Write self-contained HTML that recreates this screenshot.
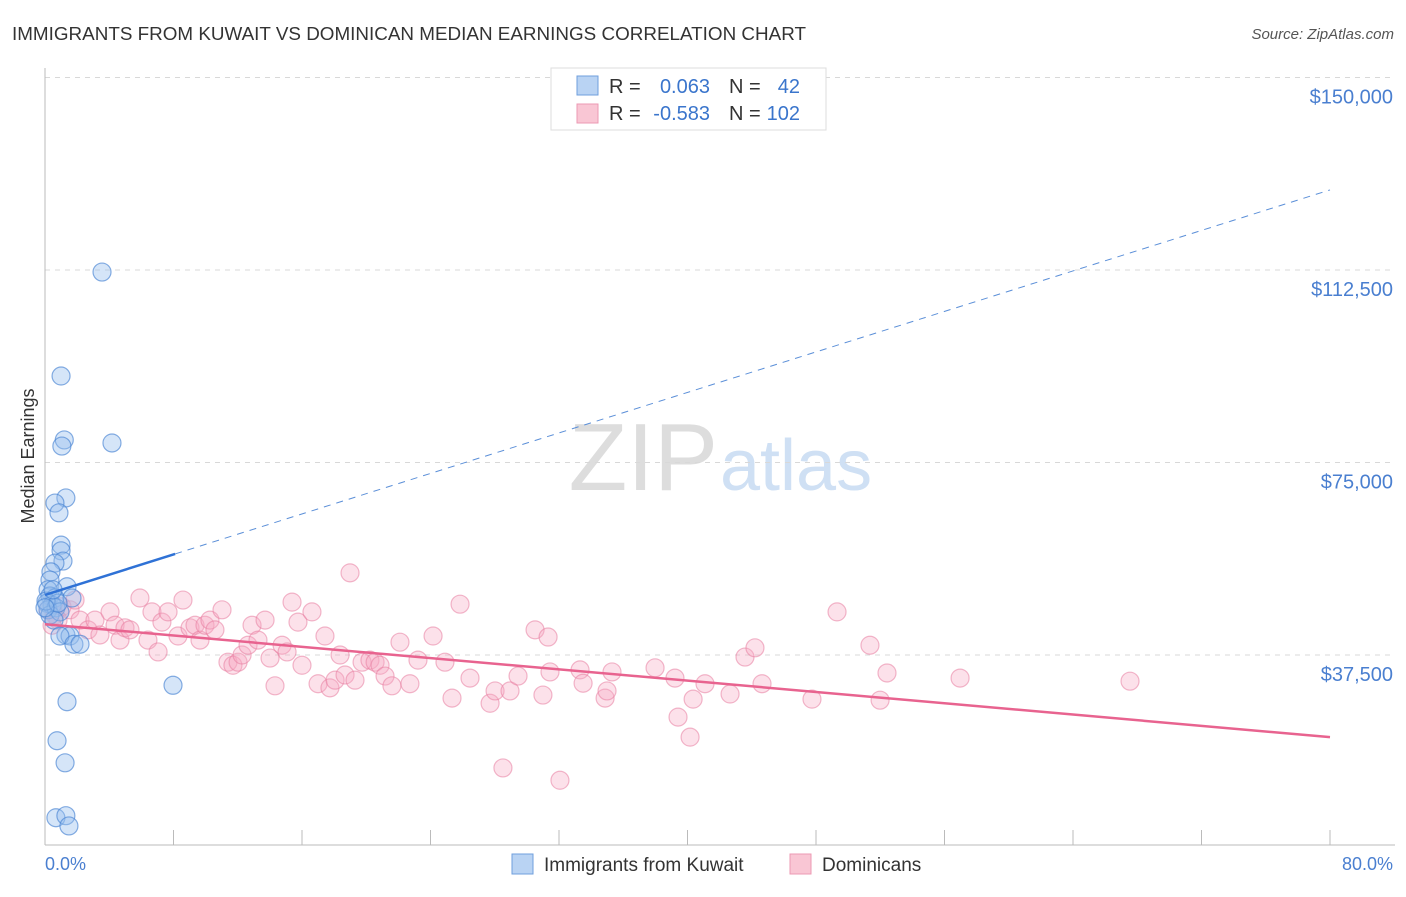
<!DOCTYPE html>
<html><head><meta charset="utf-8"><style>
body{margin:0;background:#fff;font-family:"Liberation Sans",sans-serif}
svg text{font-family:"Liberation Sans",sans-serif}
</style></head><body>
<svg id="chart" width="1406" height="892">
<text x="12" y="40" font-size="18" fill="#333" textLength="794" lengthAdjust="spacingAndGlyphs">IMMIGRANTS FROM KUWAIT VS DOMINICAN MEDIAN EARNINGS CORRELATION CHART</text>
<text x="1394" y="39" font-size="15" fill="#555" text-anchor="end" font-style="italic">Source: ZipAtlas.com</text>
<text x="718" y="490" font-size="96" fill="#ddd" text-anchor="end" font-family="Liberation Serif">ZIP</text>
<text x="720" y="490" font-size="72" fill="#cfe0f4">atlas</text>
<g id="grid"></g>
<g id="axes"></g>
<g id="points"></g>
<g id="trends"></g>
<text transform="translate(34,456) rotate(-90)" font-size="18" fill="#333" text-anchor="middle">Median Earnings</text>
<text x="45" y="870" font-size="18" fill="#4a7fd0">0.0%</text>
<text x="1393" y="870" font-size="18" fill="#4a7fd0" text-anchor="end">80.0%</text>
<g>
<rect x="551" y="68" width="275" height="62" fill="#fff" stroke="#ddd"/>
<rect x="577" y="76" width="21" height="19" fill="#b9d3f3" stroke="#6f9fdc"/>
<rect x="577" y="104" width="21" height="19" fill="#f9c6d4" stroke="#ec99b3"/>
<text x="609" y="93" font-size="20" fill="#333">R =</text>
<text x="710" y="93" font-size="20" fill="#3a75cc" text-anchor="end">0.063</text>
<text x="729" y="93" font-size="20" fill="#333">N =</text>
<text x="800" y="93" font-size="20" fill="#3a75cc" text-anchor="end">42</text>
<text x="609" y="120" font-size="20" fill="#333">R =</text>
<text x="710" y="120" font-size="20" fill="#3a75cc" text-anchor="end">-0.583</text>
<text x="729" y="120" font-size="20" fill="#333">N =</text>
<text x="800" y="120" font-size="20" fill="#3a75cc" text-anchor="end">102</text>
</g>
<g>
<rect x="512" y="854" width="21" height="20" fill="#b9d3f3" stroke="#6f9fdc"/>
<text x="544" y="871" font-size="19" fill="#333">Immigrants from Kuwait</text>
<rect x="790" y="854" width="21" height="20" fill="#f9c6d4" stroke="#ec99b3"/>
<text x="822" y="871" font-size="19" fill="#333">Dominicans</text>
</g>
</svg>
<script>
const yTicks=[150000,112500,75000,37500];
const yTickLabels=["$150,000","$112,500","$75,000","$37,500"];
const xTicks=[0,8,16,24,32,40,48,56,64,72,80];
const blueX=[3.55,1.0,1.2,1.05,4.17,1.3,0.62,0.87,1.0,1.0,1.12,0.62,0.37,0.31,1.37,0.19,0.31,0.62,1.68,0.12,0.44,0.19,0.68,0.31,0.93,0.56,1.3,1.56,0.93,1.8,2.18,7.97,1.37,0.75,1.25,0.68,1.3,1.49,0.06,0.81,0.5,0];
const blueY=[112100,91850,79400,78200,78800,68100,67100,65200,58900,57800,55800,55400,53700,52100,50800,50200,49000,48600,48600,47600,47200,46300,46700,45300,45900,44300,41400,41200,41200,39600,39600,31600,28400,20800,16500,5800,6200,4200,48000,47600,50200,46700];
const pinkX=[0.19,0.62,1.06,1.56,1.87,0.81,0.44,2.18,2.68,3.11,3.42,4.05,4.36,4.67,4.98,5.29,5.91,6.41,6.66,7.04,7.28,7.66,8.28,8.59,9.03,9.34,9.65,9.96,10.27,10.58,11.02,11.39,11.7,12.02,12.27,12.64,12.89,13.26,13.7,14.01,14.32,14.76,15.07,15.38,15.75,16.0,16.62,17.0,17.43,17.74,18.06,18.37,18.68,18.99,19.3,19.74,20.23,20.55,20.86,21.17,21.6,22.1,22.72,23.22,24.16,24.9,25.34,25.84,26.46,27.71,28.02,28.51,28.95,29.45,30.51,31.0,31.32,31.44,32.06,33.31,33.5,34.87,34.99,35.3,37.98,39.22,39.41,40.16,40.35,41.09,42.65,43.58,44.2,44.64,47.75,49.31,51.36,51.99,52.42,56.97,67.55];
const pinkY=[46300,45300,46900,46300,48200,44300,43300,44300,42400,44300,41400,45900,43300,40400,42800,42400,48600,40400,45900,38100,43900,45900,41200,48200,42800,43300,40400,43300,44300,42400,46300,36100,35500,36100,37500,39400,43300,40400,44300,36900,31500,39400,38100,47800,43900,35500,45900,31900,41200,31100,32600,37500,33600,53500,32600,36100,36500,36100,35500,33400,31500,40000,31900,36500,41200,36100,29100,47400,33000,28100,30500,15500,30500,33400,42400,29700,41000,34200,13100,34600,32000,29100,30500,34200,35000,33000,25400,21500,28900,31900,29900,37100,38900,31900,28900,45900,39400,28700,34000,33000,32400];
const blueTrend=[49200,128100];
const pinkTrend=[43500,21500];
const sx=v=>45+v/80*1285;
const sy=v=>847.5-v/37500*192.5;
const NS="http://www.w3.org/2000/svg";
function mk(tag,attrs,parent){const e=document.createElementNS(NS,tag);for(const k in attrs)e.setAttribute(k,attrs[k]);document.getElementById(parent).appendChild(e);return e;}
yTicks.forEach((t,i)=>{
 const g=mk('line',{x1:45,x2:1395,y1:sy(t),y2:sy(t),stroke:'#d8d8d8','stroke-dasharray':'5,5'},'grid');
 
 
 const l=mk('text',{x:1393,y:sy(t)+26,'font-size':20,fill:'#4a7fd0','text-anchor':'end'},'grid');
 l.textContent=yTickLabels[i];
 
 
});
const ya=mk('line',{x1:45,x2:45,y1:68,y2:845,stroke:'#bbb'},'axes');


const xa=mk('line',{x1:45,x2:1395,y1:845,y2:845,stroke:'#bbb'},'axes');


xTicks.forEach(t=>{
 const k=mk('line',{x1:sx(t),x2:sx(t),y1:830,y2:845,stroke:'#bbb'},'axes');
 
 
});
pinkX.forEach((x,i)=>{
 const c=mk('circle',{cx:sx(x),cy:sy(pinkY[i]),r:9,fill:'rgba(246,170,195,0.35)',stroke:'rgba(232,125,160,0.55)','stroke-width':1.2},'points');
 
 
});
blueX.forEach((x,i)=>{
 const c=mk('circle',{cx:sx(x),cy:sy(blueY[i]),r:9,fill:'rgba(150,190,238,0.4)',stroke:'rgba(70,130,210,0.65)','stroke-width':1.2},'points');
 
 
});
const bt=v=>blueTrend[0]+(blueTrend[1]-blueTrend[0])*v/80;
const b1=mk('line',{x1:sx(0),y1:sy(bt(0)),x2:sx(8.1),y2:sy(bt(8.1)),stroke:'#2f72d6','stroke-width':2.5},'trends');


const b2=mk('line',{x1:sx(8.1),y1:sy(bt(8.1)),x2:sx(80),y2:sy(bt(80)),stroke:'#5b8fd8','stroke-width':1,'stroke-dasharray':'7,6'},'trends');


const p1=mk('line',{x1:sx(0),y1:sy(pinkTrend[0]),x2:sx(80),y2:sy(pinkTrend[1]),stroke:'#e8638f','stroke-width':2.5},'trends');


</script>
</body></html>
